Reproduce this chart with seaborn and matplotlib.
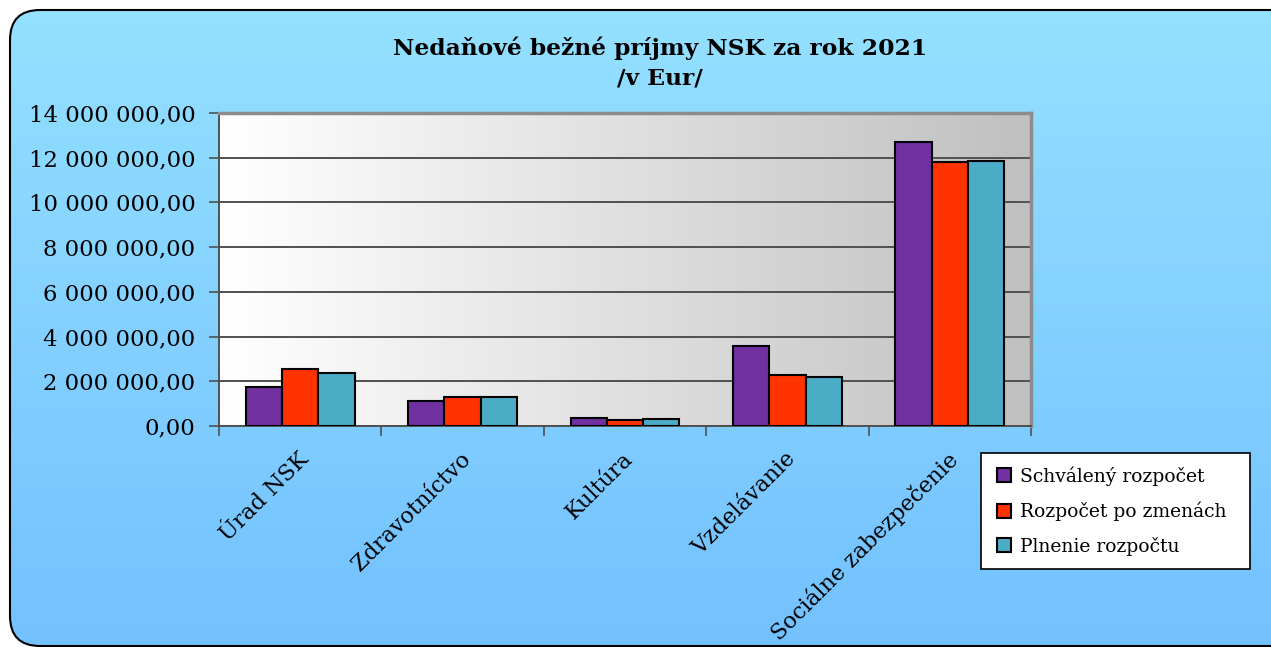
import numpy as np
import pandas as pd
import matplotlib
matplotlib.use("Agg")
import matplotlib.pyplot as plt
import matplotlib.transforms as mtransforms
from matplotlib.colors import LinearSegmentedColormap
from matplotlib.patches import FancyBboxPatch
from matplotlib.lines import Line2D
import seaborn as sns

# data
categories = ["Úrad NSK", "Zdravotníctvo", "Kultúra", "Vzdelávanie", "Sociálne zabezpečenie"]
series_names = ["Schválený rozpočet", "Rozpočet po zmenách", "Plnenie rozpočtu"]
schvaleny = [1730000, 1130000, 340000, 3580000, 12690000]
po_zmenach = [2540000, 1310000, 270000, 2300000, 11820000]
plnenie = [2360000, 1310000, 300000, 2210000, 11870000]
colors = ["#7030A0", "#FF3300", "#4BACC6"]
y_ticks = [0, 2000000, 4000000, 6000000, 8000000, 10000000, 12000000, 14000000]

df = pd.DataFrame({
    "kategoria": categories * 3,
    "ukazovatel": [series_names[0]] * 5 + [series_names[1]] * 5 + [series_names[2]] * 5,
    "suma": schvaleny + po_zmenach + plnenie,
})

sns.set_style("white")
plt.rcParams["font.family"] = ["DejaVu Serif"]
plt.rcParams["text.color"] = "black"

W, H = 1271, 647
fig = plt.figure(figsize=(W / 100, H / 100), dpi=100)
fig.patch.set_facecolor("white")

# background panel with rounded corners and vertical gradient
bg = fig.add_axes([0, 0, 1, 1], zorder=-5)
bg.set_xlim(0, W)
bg.set_ylim(H, 0)
bg.axis("off")
panel = FancyBboxPatch((10, 10), 1300, 636, boxstyle="round,pad=0,rounding_size=30",
                       facecolor="none", edgecolor="black", linewidth=1.5, zorder=3)
bg.add_patch(panel)
bg_cmap = LinearSegmentedColormap.from_list("bg", ["#94E1FF", "#73C1FF"])
grad = np.linspace(0, 1, 256).reshape(-1, 1)
img = bg.imshow(grad, extent=(0, W, H, 0), aspect="auto", cmap=bg_cmap, zorder=1)
img.set_clip_path(panel)

# plot area
ax = fig.add_axes([219 / W, 1 - 426 / H, (1031 - 219) / W, (426 - 113) / H])
plot_cmap = LinearSegmentedColormap.from_list("plot", ["#FFFFFF", "#C0C0C0"])
ax.imshow(np.linspace(0, 1, 256).reshape(1, -1), extent=(-0.5, 4.5, 0, 14000000),
          aspect="auto", cmap=plot_cmap, zorder=0)

sns.barplot(data=df, x="kategoria", y="suma", hue="ukazovatel", palette=colors,
            width=0.67, saturation=1, edgecolor="black", linewidth=1.5,
            legend=False, ax=ax, zorder=3)

ax.set_xlim(-0.5, 4.5)
ax.set_ylim(0, 14000000)
ax.set_xlabel("")
ax.set_ylabel("")
ax.set_axisbelow(True)
ax.grid(axis="y", color="#505050", linewidth=1.4)
ax.grid(axis="x", visible=False)

for side in ["top", "right"]:
    ax.spines[side].set_color("#8C8C8C")
    ax.spines[side].set_linewidth(2.5)
for side in ["left", "bottom"]:
    ax.spines[side].set_color("#505050")
    ax.spines[side].set_linewidth(1.4)

ax.set_yticks(y_ticks)
ax.set_yticklabels([f"{v:,.2f}".replace(",", " ").replace(".", ",") for v in y_ticks],
                   fontsize=16.4, color="black")
ax.tick_params(axis="y", direction="out", length=7, width=1.2, color="#505050", pad=10, left=True)

ax.set_xticks(np.arange(-0.5, 5, 1))
ax.set_xticklabels([])
ax.tick_params(axis="x", which="major", direction="out", length=7, width=1.2,
               color="#505050", bottom=True)
ax.set_xticks(range(len(categories)), minor=True)
ax.set_xticklabels(categories, minor=True, rotation=45, ha="right", va="top",
                   rotation_mode="anchor", fontsize=16, color="black")
ax.tick_params(axis="x", which="minor", length=0, pad=16)
shift = mtransforms.ScaledTranslation(-3 / 100, 0, fig.dpi_scale_trans)
for lab in ax.get_xticklabels(minor=True):
    lab.set_transform(lab.get_transform() + shift)

fig.text(660 / W, 1 - 36 / H, "Nedaňové bežné príjmy NSK za rok 2021\n/v Eur/",
         ha="center", va="top", fontsize=16.8, fontweight="bold", linespacing=1.45,
         color="black")

handles = [Line2D([0], [0], marker="s", linestyle="none", markersize=10,
                  markerfacecolor=c, markeredgecolor="black", markeredgewidth=1.5)
           for c in colors]
leg = fig.legend(handles, series_names, loc="upper left",
                 bbox_to_anchor=(981 / W, 1 - 570 / H, 269 / W, 117 / H), mode="expand",
                 fontsize=13.5, frameon=True, fancybox=False, edgecolor="black",
                 framealpha=1, handlelength=1.1, handletextpad=0.3, labelspacing=0.85,
                 borderpad=0.7, borderaxespad=0)
leg.get_frame().set_linewidth(1.2)

fig.savefig("out.png", dpi=100)
